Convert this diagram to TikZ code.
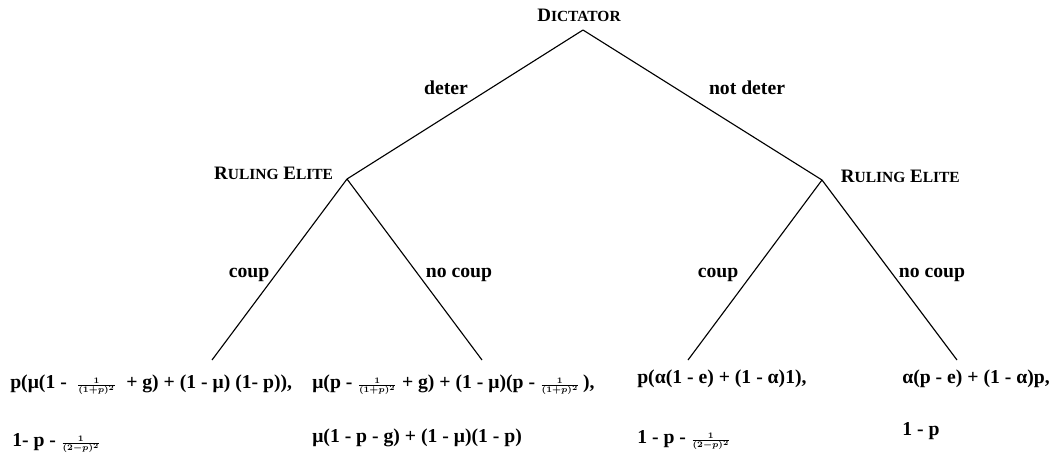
\documentclass[tikz,border=0pt]{standalone}
\usepackage{fontspec}
\setmainfont{Liberation Serif}
\usepackage{amsmath}

\tikzset{
  branch/.style={line width=0.8pt},
  player/.style={font=\fontsize{13.5}{16}\selectfont\bfseries},
  move/.style={font=\fontsize{14}{17}\selectfont\bfseries},
  payoff/.style={font=\fontsize{14}{17}\selectfont\bfseries, anchor=base west, inner sep=0pt},
}
\newcommand{\invsq}[1]{{\fontsize{8.5}{10}\selectfont\boldmath$\frac{1}{(#1)^2}$}}
\newcommand{\fakecaps}[1]{{\fontsize{11}{13}\selectfont #1}}

\begin{document}
\begin{tikzpicture}[x=0.025cm, y=-0.025cm]
    \useasboundingbox (0,0) rectangle (1058,468);

    % Decision points
    \coordinate (dict) at (583,30);
    \coordinate (reL) at (347,179);
    \coordinate (reR) at (822,180);

    % Terminal points
    \coordinate (tLL) at (212,360);
    \coordinate (tLR) at (482,360);
    \coordinate (tRL) at (688,360);
    \coordinate (tRR) at (957,360);

    % Players
    \node[player] (dictlab) at (579,15) {D\fakecaps{ICTATOR}};
    \node[player, anchor=east] (reLlab) at (338,173) {R\fakecaps{ULING} E\fakecaps{LITE}};
    \node[player, anchor=west] (reRlab) at (836,176) {R\fakecaps{ULING} E\fakecaps{LITE}};

    % Branches
    \draw[branch] (dict) -- (reL);
    \draw[branch] (dict) -- (reR);
    \draw[branch] (reL) -- (tLL);
    \draw[branch] (reL) -- (tLR);
    \draw[branch] (reR) -- (tRL);
    \draw[branch] (reR) -- (tRR);

    % Moves
    \node[move] (mdeter) at (446,88) {deter};
    \node[move] (mnot) at (747,88) {not deter};
    \node[move] (mcoupL) at (249,275) {coup};
    \node[move] (mnocoupL) at (459,275) {no coup};
    \node[move] (mcoupR) at (718,275) {coup};
    \node[move] (mnocoupR) at (932,275) {no coup};

    % Payoffs
    \node[payoff] (pLLa) at (10,388) {p(μ(1 -\ \ \invsq{1+p}\ \ + g) + (1 - μ) (1- p)),};
    \node[payoff] (pLLb) at (12,446) {1- p - \invsq{2-p}};
    \node[payoff] (pLRa) at (312,388) {μ(p - \invsq{1+p} + g) + (1 - μ)(p -\ \invsq{1+p}\,),};
    \node[payoff] (pLRb) at (312,442) {μ(1 - p - g) + (1 - μ)(1 - p)};
    \node[payoff] (pRLa) at (637,383) {p(α(1 - e) + (1 - α)1),};
    \node[payoff] (pRLb) at (637,443) {1 - p -\ \invsq{2-p}};
    \node[payoff] (pRRa) at (902,383) {α(p - e) + (1 - α)p,};
    \node[payoff] (pRRb) at (902,435) {1 - p};
\end{tikzpicture}
\end{document}
